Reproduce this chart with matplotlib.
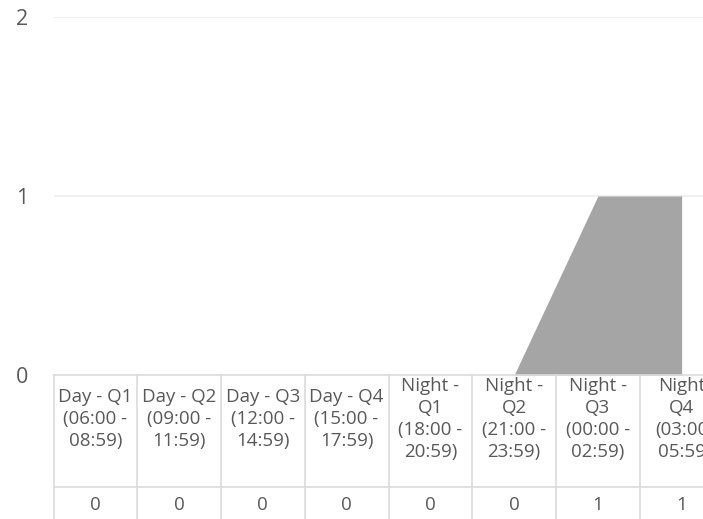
import numpy as np
import matplotlib.pyplot as plt
import matplotlib.transforms as mtransforms

plt.rcParams['font.family'] = ['Open Sans', 'DejaVu Sans']

categories = ['Day - Q1\n(06:00 -\n08:59)', 'Day - Q2\n(09:00 -\n11:59)',
              'Day - Q3\n(12:00 -\n14:59)', 'Day - Q4\n(15:00 -\n17:59)',
              'Night -\nQ1\n(18:00 -\n20:59)', 'Night -\nQ2\n(21:00 -\n23:59)',
              'Night -\nQ3\n(00:00 -\n02:59)', 'Night\nQ4\n(03:00\n05:59']
values = [0, 0, 0, 0, 0, 0, 1, 1]
y_ticks = [0, 1, 2]

grid_c = '#ECECEC'
table_c = '#DADADA'
text_c = '#595959'

fig = plt.figure(figsize=(7.03, 5.19), dpi=100)
W, H = 703, 519
left_px, top_px, bottom_px = 53.5, 17, 375
col_w = 83.75
ax = fig.add_axes([left_px / W, 1 - bottom_px / H, (W - left_px) / W, (bottom_px - top_px) / H])

x = np.arange(len(values)) + 0.5
ax.fill_between(x, 0, values, color='#A5A5A5', linewidth=0)

ax.set_xlim(0, (W - left_px) / col_w)
ax.set_ylim(0, 2)
ax.set_yticks(y_ticks)
ax.set_yticklabels([str(t) for t in y_ticks], fontsize=15.5, color=text_c)
ax.tick_params(axis='y', length=0, pad=18)
ax.set_xticks([])
for t in y_ticks[1:]:
    ax.axhline(t, color=grid_c, linewidth=1.2, zorder=0)
for s in ['top', 'right', 'left']:
    ax.spines[s].set_visible(False)
ax.spines['bottom'].set_color(table_c)
ax.spines['bottom'].set_linewidth(1.2)

# data table below the plot
trans = mtransforms.blended_transform_factory(ax.transData, ax.transAxes)
row_line = -(487 - bottom_px) / (bottom_px - top_px)
table_bottom = -(H + 5 - bottom_px) / (bottom_px - top_px)
for i in range(len(values) + 1):
    ax.plot([i, i], [0, table_bottom], color=table_c, linewidth=1.2,
            transform=trans, clip_on=False)
ax.plot([0, len(values)], [row_line, row_line], color=table_c, linewidth=1.2,
        transform=trans, clip_on=False)

head_y = -(419 - bottom_px) / (bottom_px - top_px)
val_y = -(505 - bottom_px) / (bottom_px - top_px)
for i, (c, v) in enumerate(zip(categories, values)):
    ax.text(i + 0.5, head_y, c, transform=trans, ha='center', va='center',
            fontsize=13.5, color=text_c, linespacing=1.3)
    ax.text(i + 0.5, val_y, str(v), transform=trans, ha='center', va='center',
            fontsize=13.5, color=text_c)

fig.savefig('out.png', dpi=100)
